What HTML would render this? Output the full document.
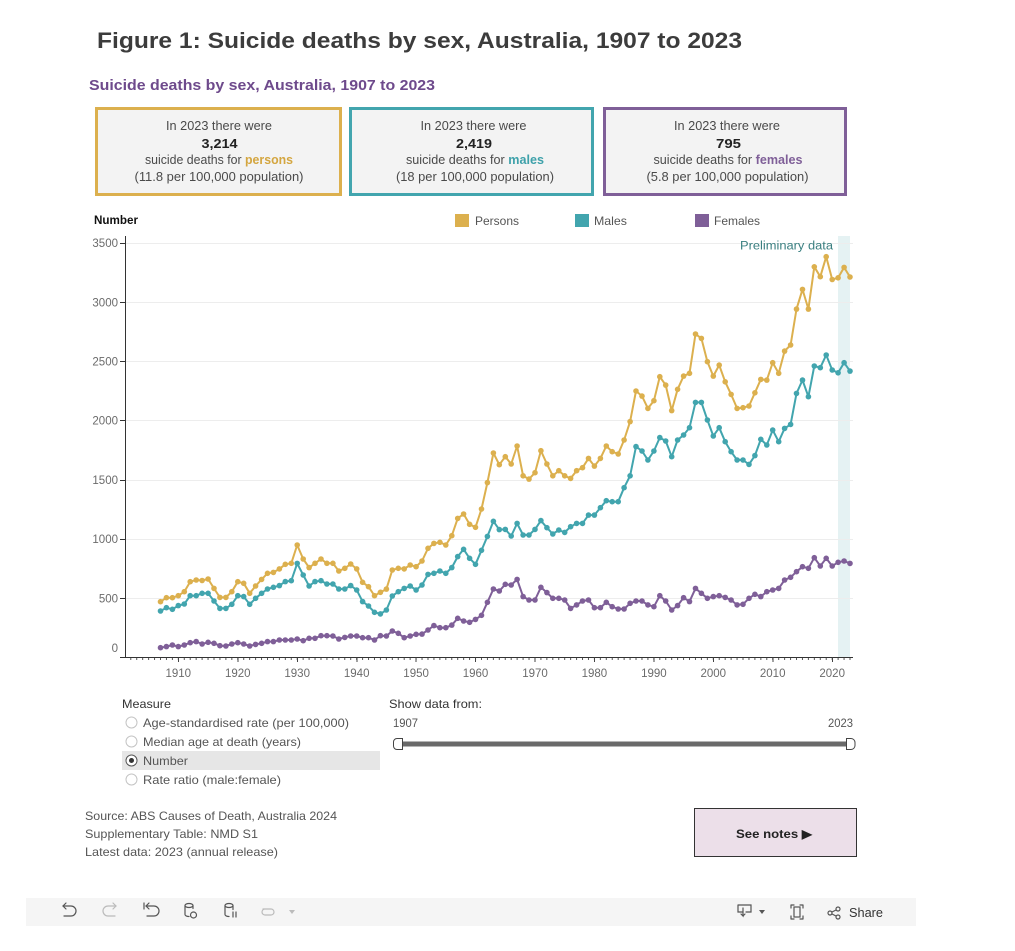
<!DOCTYPE html>
<html><head><meta charset="utf-8">
<style>
html,body{margin:0;padding:0;background:#fff;}
svg{display:block;font-family:"Liberation Sans",sans-serif;}
</style></head>
<body>
<svg width="1015" height="951" viewBox="0 0 1015 951" xmlns="http://www.w3.org/2000/svg">
<defs>
  <marker id="mp" markerWidth="7" markerHeight="7" refX="3.5" refY="3.5" markerUnits="userSpaceOnUse"><circle cx="3.5" cy="3.5" r="2.8" fill="#dcb04e"/></marker>
  <marker id="mm" markerWidth="7" markerHeight="7" refX="3.5" refY="3.5" markerUnits="userSpaceOnUse"><circle cx="3.5" cy="3.5" r="2.8" fill="#42a5ae"/></marker>
  <marker id="mf" markerWidth="7" markerHeight="7" refX="3.5" refY="3.5" markerUnits="userSpaceOnUse"><circle cx="3.5" cy="3.5" r="2.8" fill="#7f5f98"/></marker>
  <pattern id="tk" patternUnits="userSpaceOnUse" x="160" y="657" width="5.944" height="3"><rect x="0" y="0" width="1" height="3" fill="#555"/></pattern>
</defs>
<rect width="1015" height="951" fill="#fff"/>
<!-- Titles -->
<text x="97" y="48" font-size="22" font-weight="bold" fill="#3c3c3c" textLength="645" lengthAdjust="spacingAndGlyphs">Figure 1: Suicide deaths by sex, Australia, 1907 to 2023</text>
<text x="89" y="90" font-size="15" font-weight="bold" fill="#6e4a8c" textLength="346" lengthAdjust="spacingAndGlyphs">Suicide deaths by sex, Australia, 1907 to 2023</text>

<!-- KPI boxes -->
<rect x="96.5" y="108.5" width="244" height="86" fill="#f3f3f3" stroke="#dcb04e" stroke-width="3"/>
<rect x="350.5" y="108.5" width="242" height="86" fill="#f3f3f3" stroke="#42a5ae" stroke-width="3"/>
<rect x="604.5" y="108.5" width="241" height="86" fill="#f3f3f3" stroke="#7f5f98" stroke-width="3"/>
<g font-size="12.5" fill="#4a4a4a" text-anchor="middle">
  <text x="219" y="130" textLength="106" lengthAdjust="spacingAndGlyphs">In 2023 there were</text>
  <text x="219.5" y="148" font-weight="bold" fill="#222" textLength="36" lengthAdjust="spacingAndGlyphs">3,214</text>
  <text x="219" y="164" textLength="148" lengthAdjust="spacingAndGlyphs">suicide deaths for <tspan fill="#d4a640" font-weight="bold">persons</tspan></text>
  <text x="219" y="181" textLength="169" lengthAdjust="spacingAndGlyphs">(11.8 per 100,000 population)</text>

  <text x="473.5" y="130" textLength="106" lengthAdjust="spacingAndGlyphs">In 2023 there were</text>
  <text x="474" y="148" font-weight="bold" fill="#222" textLength="36" lengthAdjust="spacingAndGlyphs">2,419</text>
  <text x="475" y="164" textLength="138" lengthAdjust="spacingAndGlyphs">suicide deaths for <tspan fill="#3ea1aa" font-weight="bold">males</tspan></text>
  <text x="475" y="181" textLength="158" lengthAdjust="spacingAndGlyphs">(18 per 100,000 population)</text>

  <text x="727" y="130" textLength="106" lengthAdjust="spacingAndGlyphs">In 2023 there were</text>
  <text x="728.5" y="148" font-weight="bold" fill="#222" textLength="25" lengthAdjust="spacingAndGlyphs">795</text>
  <text x="728" y="164" textLength="149" lengthAdjust="spacingAndGlyphs">suicide deaths for <tspan fill="#7f5f98" font-weight="bold">females</tspan></text>
  <text x="727.5" y="181" textLength="162" lengthAdjust="spacingAndGlyphs">(5.8 per 100,000 population)</text>
</g>

<!-- Legend -->
<text x="94" y="224" font-size="11.5" font-weight="bold" fill="#111" textLength="44" lengthAdjust="spacingAndGlyphs">Number</text>
<rect x="455" y="214" width="14" height="13" fill="#dcb04e"/>
<text x="475" y="225" font-size="12" fill="#555" textLength="44" lengthAdjust="spacingAndGlyphs">Persons</text>
<rect x="575" y="214" width="14" height="13" fill="#42a5ae"/>
<text x="594" y="225" font-size="12" fill="#555" textLength="33" lengthAdjust="spacingAndGlyphs">Males</text>
<rect x="695" y="214" width="14" height="13" fill="#7f5f98"/>
<text x="714" y="225" font-size="12" fill="#555" textLength="46" lengthAdjust="spacingAndGlyphs">Females</text>

<!-- Chart -->
<rect x="838" y="236" width="12" height="421" fill="#e5f2f3"/>
<g stroke="#ededed" stroke-width="1">
  <line x1="126" x2="853" y1="598.5" y2="598.5"/>
  <line x1="126" x2="853" y1="539.5" y2="539.5"/>
  <line x1="126" x2="853" y1="480.5" y2="480.5"/>
  <line x1="126" x2="853" y1="420.5" y2="420.5"/>
  <line x1="126" x2="853" y1="361.5" y2="361.5"/>
  <line x1="126" x2="853" y1="302.5" y2="302.5"/>
  <line x1="126" x2="853" y1="243.5" y2="243.5"/>
</g>
<g stroke="#333" stroke-width="1">
  <line x1="120" x2="125.5" y1="657.5" y2="657.5"/>
  <line x1="120" x2="125.5" y1="598.5" y2="598.5"/>
  <line x1="120" x2="125.5" y1="539.5" y2="539.5"/>
  <line x1="120" x2="125.5" y1="480.5" y2="480.5"/>
  <line x1="120" x2="125.5" y1="420.5" y2="420.5"/>
  <line x1="120" x2="125.5" y1="361.5" y2="361.5"/>
  <line x1="120" x2="125.5" y1="302.5" y2="302.5"/>
  <line x1="120" x2="125.5" y1="243.5" y2="243.5"/>
  <line x1="125.5" x2="125.5" y1="236" y2="658"/>
  <line x1="125" x2="853" y1="657.5" y2="657.5"/>
</g>
<g font-size="11.5" fill="#6b6b6b" text-anchor="end">
  <text x="118" y="652">0</text>
  <text x="118" y="602.3">500</text>
  <text x="118" y="543.1">1000</text>
  <text x="118" y="483.9">1500</text>
  <text x="118" y="424.7">2000</text>
  <text x="118" y="365.5">2500</text>
  <text x="118" y="306.3">3000</text>
  <text x="118" y="247.1">3500</text>
</g>
<rect x="128" y="658" width="725" height="2" fill="url(#tk)"/>
<g stroke="#444" stroke-width="1">
  <line x1="178.5" x2="178.5" y1="657.5" y2="662"/>
  <line x1="238" x2="238" y1="657.5" y2="662"/>
  <line x1="297.5" x2="297.5" y1="657.5" y2="662"/>
  <line x1="357" x2="357" y1="657.5" y2="662"/>
  <line x1="416" x2="416" y1="657.5" y2="662"/>
  <line x1="475.5" x2="475.5" y1="657.5" y2="662"/>
  <line x1="535" x2="535" y1="657.5" y2="662"/>
  <line x1="594.5" x2="594.5" y1="657.5" y2="662"/>
  <line x1="654" x2="654" y1="657.5" y2="662"/>
  <line x1="713.5" x2="713.5" y1="657.5" y2="662"/>
  <line x1="773" x2="773" y1="657.5" y2="662"/>
  <line x1="832.5" x2="832.5" y1="657.5" y2="662"/>
</g>
<g font-size="11.5" fill="#6b6b6b" text-anchor="middle">
  <text x="178.3" y="677">1910</text>
  <text x="237.8" y="677">1920</text>
  <text x="297.2" y="677">1930</text>
  <text x="356.7" y="677">1940</text>
  <text x="416.1" y="677">1950</text>
  <text x="475.5" y="677">1960</text>
  <text x="535" y="677">1970</text>
  <text x="594.4" y="677">1980</text>
  <text x="653.9" y="677">1990</text>
  <text x="713.3" y="677">2000</text>
  <text x="772.7" y="677">2010</text>
  <text x="832.2" y="677">2020</text>
</g>
<text x="740" y="249.5" font-size="11.5" fill="#3a7f80" textLength="93" lengthAdjust="spacingAndGlyphs">Preliminary data</text>

<!-- Females -->
<polyline fill="none" stroke="#7f5f98" stroke-width="2" stroke-linejoin="round" marker-start="url(#mf)" marker-mid="url(#mf)" marker-end="url(#mf)" points="160.5,647.7 166.4,646.6 172.4,645.0 178.3,646.6 184.3,645.0 190.2,642.7 196.2,641.6 202.1,644.0 208.1,642.3 214.0,643.3 219.9,645.7 225.9,646.0 231.8,644.0 237.8,642.7 243.7,644.0 249.7,646.0 255.6,644.4 261.6,643.3 267.5,641.6 273.4,641.6 279.4,640.0 285.3,640.0 291.3,640.0 297.2,639.0 303.2,640.7 309.1,638.3 315.0,638.3 321.0,635.7 326.9,635.7 332.9,636.0 338.8,639.0 344.8,637.4 350.7,636.0 356.7,636.0 362.6,637.7 368.5,637.7 374.5,640.0 380.4,635.7 386.4,636.0 392.3,631.0 398.3,633.3 404.2,637.7 410.2,636.0 416.1,634.3 422.0,634.1 428.0,630.0 433.9,625.6 439.9,627.7 445.8,627.7 451.8,625.1 457.7,618.3 463.6,621.0 469.6,622.3 475.5,619.4 481.5,615.3 487.4,602.3 493.4,589.0 499.3,591.0 505.3,584.3 511.2,585.0 517.1,579.4 523.1,596.6 529.0,600.0 535.0,600.0 540.9,587.3 546.9,592.6 552.8,598.3 558.8,598.3 564.7,600.0 570.6,608.4 576.6,604.9 582.5,601.0 588.5,600.0 594.4,607.7 600.4,607.7 606.3,602.3 612.2,606.7 618.2,609.0 624.1,609.0 630.1,603.3 636.0,601.0 642.0,601.0 647.9,604.9 653.9,606.7 659.8,595.7 665.7,601.0 671.7,610.0 677.6,605.6 683.6,597.7 689.5,601.6 695.5,588.4 701.4,593.3 707.4,598.3 713.3,596.6 719.2,595.7 725.2,597.4 731.1,600.0 737.1,604.9 743.0,604.3 749.0,598.3 754.9,594.3 760.8,596.6 766.8,591.7 772.7,590.0 778.7,588.4 784.6,580.0 790.6,577.3 796.5,571.7 802.5,566.7 808.4,568.3 814.3,557.7 820.3,566.0 826.2,558.3 832.2,566.0 838.1,562.3 844.1,561.0 850.0,563.4"/>
<!-- Males -->
<polyline fill="none" stroke="#42a5ae" stroke-width="2" stroke-linejoin="round" marker-start="url(#mm)" marker-mid="url(#mm)" marker-end="url(#mm)" points="160.5,611.0 166.4,607.7 172.4,609.3 178.3,605.6 184.3,604.0 190.2,595.7 196.2,595.7 202.1,593.3 208.1,593.3 214.0,601.0 219.9,608.4 225.9,608.4 231.8,604.3 237.8,595.7 243.7,596.6 249.7,604.3 255.6,598.3 261.6,593.3 267.5,589.0 273.4,587.3 279.4,585.6 285.3,581.6 291.3,580.7 297.2,563.4 303.2,575.0 309.1,586.0 315.0,581.6 321.0,580.7 326.9,584.0 332.9,584.0 338.8,589.0 344.8,589.0 350.7,585.6 356.7,590.0 362.6,601.6 368.5,606.0 374.5,612.3 380.4,613.9 386.4,610.0 392.3,596.0 398.3,591.7 404.2,588.4 410.2,586.0 416.1,590.0 422.0,585.0 428.0,574.4 433.9,573.3 439.9,571.0 445.8,573.3 451.8,567.6 457.7,556.6 463.6,549.3 469.6,558.3 475.5,564.3 481.5,550.3 487.4,536.4 493.4,521.3 499.3,529.6 505.3,529.4 511.2,536.0 517.1,523.4 523.1,535.0 529.0,535.0 535.0,529.4 540.9,520.6 546.9,527.7 552.8,534.0 558.8,530.0 564.7,532.4 570.6,526.7 576.6,523.4 582.5,523.4 588.5,515.1 594.4,515.1 600.4,507.7 606.3,500.7 612.2,501.7 618.2,501.7 624.1,487.7 630.1,475.8 636.0,446.6 642.0,451.0 647.9,460.0 653.9,451.0 659.8,437.6 665.7,441.0 671.7,456.7 677.6,440.0 683.6,435.0 689.5,427.7 695.5,402.4 701.4,402.4 707.4,420.0 713.3,436.0 719.2,427.7 725.2,441.7 731.1,451.7 737.1,460.0 743.0,460.0 749.0,464.4 754.9,455.6 760.8,439.3 766.8,445.0 772.7,430.1 778.7,441.7 784.6,428.4 790.6,424.4 796.5,393.4 802.5,380.1 808.4,396.7 814.3,366.0 820.3,367.7 826.2,355.0 832.2,370.0 838.1,372.8 844.1,362.7 850.0,371.1"/>
<!-- Persons -->
<polyline fill="none" stroke="#dcb04e" stroke-width="2" stroke-linejoin="round" marker-start="url(#mp)" marker-mid="url(#mp)" marker-end="url(#mp)" points="160.5,601.7 166.4,597.7 172.4,597.7 178.3,595.7 184.3,591.7 190.2,581.7 196.2,580.0 202.1,580.5 208.1,579.0 214.0,588.4 219.9,597.4 225.9,597.4 231.8,591.7 237.8,581.7 243.7,583.3 249.7,593.3 255.6,586.0 261.6,579.4 267.5,573.3 273.4,572.4 279.4,568.9 285.3,564.3 291.3,563.3 297.2,545.0 303.2,559.0 309.1,567.6 315.0,563.3 321.0,559.0 326.9,563.3 332.9,563.3 338.8,571.0 344.8,568.3 350.7,564.0 356.7,568.9 362.6,582.3 368.5,586.7 374.5,595.7 380.4,592.3 386.4,589.1 392.3,570.0 398.3,568.3 404.2,568.9 410.2,565.0 416.1,566.7 422.0,561.0 428.0,548.3 433.9,543.4 439.9,542.3 445.8,545.0 451.8,535.7 457.7,518.4 463.6,514.0 469.6,524.3 475.5,527.3 481.5,509.0 487.4,482.6 493.4,453.0 499.3,464.7 505.3,456.7 511.2,464.0 517.1,446.0 523.1,475.8 529.0,479.1 535.0,472.7 540.9,450.7 546.9,464.0 552.8,475.8 558.8,470.7 564.7,475.8 570.6,478.4 576.6,470.7 582.5,467.7 588.5,458.4 594.4,466.1 600.4,458.4 606.3,446.0 612.2,451.7 618.2,454.0 624.1,440.0 630.1,421.6 636.0,391.0 642.0,396.1 647.9,408.4 653.9,400.7 659.8,376.7 665.7,385.1 671.7,410.6 677.6,389.3 683.6,376.1 689.5,373.3 695.5,334.0 701.4,338.4 707.4,361.7 713.3,376.1 719.2,365.1 725.2,381.8 731.1,394.4 737.1,408.4 743.0,407.7 749.0,406.0 754.9,392.8 760.8,379.4 766.8,380.1 772.7,362.7 778.7,373.3 784.6,351.1 790.6,345.0 796.5,309.1 802.5,289.4 808.4,309.1 814.3,266.8 820.3,276.7 826.2,256.7 832.2,279.5 838.1,277.8 844.1,267.4 850.0,277.0"/>

<!-- Measure controls -->
<text x="122" y="708" font-size="12" fill="#333" textLength="49" lengthAdjust="spacingAndGlyphs">Measure</text>
<rect x="122" y="751" width="258" height="19" fill="#e6e6e6"/>
<g fill="#fff" stroke="#c4c4c4" stroke-width="1">
  <circle cx="131.5" cy="722.5" r="5.5"/>
  <circle cx="131.5" cy="741.5" r="5.5"/>
  <circle cx="131.5" cy="779.5" r="5.5"/>
</g>
<circle cx="131.5" cy="760.5" r="5.5" fill="#fff" stroke="#555" stroke-width="1"/>
<circle cx="131.5" cy="760.5" r="2.5" fill="#333"/>
<g font-size="12" fill="#555">
  <text x="143" y="727" textLength="206" lengthAdjust="spacingAndGlyphs">Age-standardised rate (per 100,000)</text>
  <text x="143" y="746" textLength="158" lengthAdjust="spacingAndGlyphs">Median age at death (years)</text>
  <text x="143" y="765" textLength="45" lengthAdjust="spacingAndGlyphs">Number</text>
  <text x="143" y="784" textLength="138" lengthAdjust="spacingAndGlyphs">Rate ratio (male:female)</text>
</g>

<!-- Slider -->
<text x="389" y="708" font-size="12" fill="#333" textLength="93" lengthAdjust="spacingAndGlyphs">Show data from:</text>
<text x="393" y="727" font-size="11.5" fill="#555" textLength="25" lengthAdjust="spacingAndGlyphs">1907</text>
<text x="853" y="727" font-size="11.5" fill="#555" text-anchor="end" textLength="25" lengthAdjust="spacingAndGlyphs">2023</text>
<rect x="399" y="741.5" width="450" height="5" fill="#6a6a6a"/>
<path d="M402.5 738.5 H397 a3.5 3.5 0 0 0 -3.5 3.5 v4 a3.5 3.5 0 0 0 3.5 3.5 H402.5 Z" fill="#fff" stroke="#444" stroke-width="1"/>
<path d="M846.5 738.5 H851 a4 4 0 0 1 4 4 v3 a4 4 0 0 1 -4 4 H846.5 Z" fill="#fff" stroke="#444" stroke-width="1"/>

<!-- Source -->
<g font-size="12" fill="#555">
  <text x="85" y="820" textLength="252" lengthAdjust="spacingAndGlyphs">Source: ABS Causes of Death, Australia 2024</text>
  <text x="85" y="838" textLength="173" lengthAdjust="spacingAndGlyphs">Supplementary Table: NMD S1</text>
  <text x="85" y="856" textLength="193" lengthAdjust="spacingAndGlyphs">Latest data: 2023 (annual release)</text>
</g>

<!-- See notes button -->
<rect x="694.5" y="808.5" width="162" height="48" fill="#ecdfe9" stroke="#333" stroke-width="1"/>
<text x="774" y="838" font-size="12" font-weight="bold" fill="#222" text-anchor="middle" textLength="76" lengthAdjust="spacingAndGlyphs">See notes ▶</text>

<!-- Toolbar -->
<rect x="26" y="898" width="890" height="28" fill="#f5f5f5"/>
<g fill="none" stroke="#555" stroke-width="1.2" stroke-linecap="round">
  <path d="M63 906 h8 a5 5 0 0 1 0 10 h-7"/><path d="M66 903 l-3 3 l3 3"/>
  <path d="M116 906 h-8 a5 5 0 0 0 0 10 h7" stroke="#bbb"/><path d="M113 903 l3 3 l-3 3" stroke="#bbb"/>
  <path d="M146 906 h8 a5 5 0 0 1 0 10 h-7"/><path d="M149 903 l-3 3 l3 3"/><path d="M144 903 v6"/>
  <ellipse cx="189" cy="905.5" rx="4" ry="2"/><path d="M185 905.5 v9 a4 2 0 0 0 4 2"/><path d="M193 905.5 v3"/>
  <circle cx="193.5" cy="915" r="3"/>
  <ellipse cx="229" cy="905.5" rx="4" ry="2"/><path d="M225 905.5 v9 a4 2 0 0 0 4 2"/><path d="M233 905.5 v4"/><path d="M233 912 v5 M236 912 v5"/>
  <path d="M263 909 h8 a3 3 0 0 1 0 6 h-6 a3 3 0 0 1 0 -6" stroke="#bbb"/>
  <path d="M738 905 h13 v7 h-5 M743 912 h-5 v-7"/><path d="M743 908 v8 l-2 -2 M743 916 l2 -2"/>
  <path d="M791 905 h3 M791 905 v3 M803 905 h-3 M803 905 v3 M791 919 h3 M791 919 v-3 M803 919 h-3 M803 919 v-3"/>
  <rect x="794" y="907" width="6" height="10"/>
  <circle cx="830" cy="913" r="2"/><circle cx="838" cy="909" r="2"/><circle cx="838" cy="917" r="2"/>
  <path d="M832 912 l4 -2 M832 914 l4 2"/>
</g>
<path d="M289 910 h6 l-3 4 z" fill="#bbb"/>
<path d="M759 910 h6 l-3 4 z" fill="#555"/>
<text x="849" y="917" font-size="12.5" fill="#333" textLength="34" lengthAdjust="spacingAndGlyphs">Share</text>
</svg>
</body></html>
